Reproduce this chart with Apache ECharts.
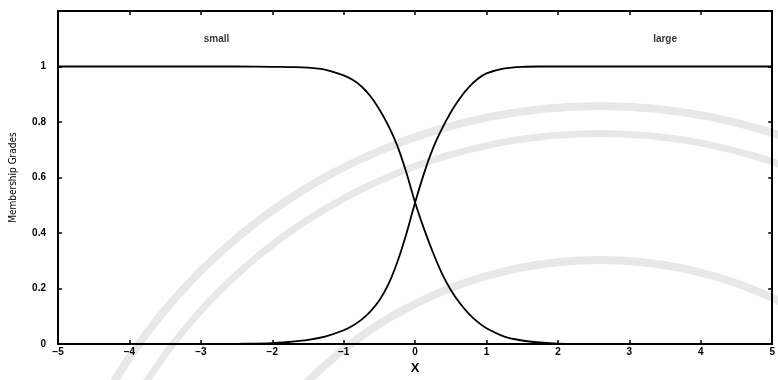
<!DOCTYPE html>
<html>
<head>
<meta charset="utf-8">
<script src="https://cdn.jsdelivr.net/npm/echarts@6/dist/echarts.min.js"></script>
<style>html,body{margin:0;padding:0;background:#fff;}#c{width:778px;height:380px;}</style>
</head>
<body>
<div id="c"></div>
<script>
var xValues = [-5, -4, -3, -2.5, -2, -1.75, -1.5, -1.25, -1, -0.875, -0.75, -0.625, -0.5, -0.375, -0.25, -0.125, 0, 0.125, 0.25, 0.375, 0.5, 0.625, 0.75, 0.875, 1, 1.25, 1.5, 1.75, 2, 2.5, 3, 4, 5];
var smallValues = [1, 1, 1, 1, 0.999, 0.998, 0.996, 0.988, 0.968, 0.952, 0.928, 0.893, 0.845, 0.787, 0.715, 0.62, 0.51, 0.415, 0.33, 0.255, 0.195, 0.148, 0.11, 0.08, 0.057, 0.027, 0.013, 0.006, 0.002, 0, 0, 0, 0];
var largeValues = [0, 0, 0, 0.001, 0.003, 0.008, 0.015, 0.028, 0.05, 0.066, 0.088, 0.118, 0.158, 0.215, 0.295, 0.395, 0.51, 0.615, 0.705, 0.775, 0.835, 0.885, 0.925, 0.955, 0.975, 0.993, 0.999, 1, 1, 1, 1, 1, 1];
var xTicks = [-5, -4, -3, -2, -1, 0, 1, 2, 3, 4, 5];
var yTicks = [0, 0.2, 0.4, 0.6, 0.8, 1];
var labelNames = ['small', 'large'];
var labelPos = [[-2.78, 1.1], [3.5, 1.1]];

function pairs(xs, ys) { return xs.map(function (x, i) { return [x, ys[i]]; }); }
var fnt = 'Liberation Sans, Arial, sans-serif';
var chart = echarts.init(document.getElementById('c'), null, {renderer: 'canvas'});
var wm = '#e8e8e8';
chart.setOption({
  animation: false,
  backgroundColor: '#fff',
  graphic: [
    {type: 'ring', z: -10, silent: true, shape: {cx: 600, cy: 672, r: 570, r0: 562}, style: {fill: wm}},
    {type: 'ring', z: -10, silent: true, shape: {cx: 600, cy: 672, r: 542, r0: 535}, style: {fill: wm}},
    {type: 'ring', z: -10, silent: true, shape: {cx: 600, cy: 672, r: 416, r0: 408}, style: {fill: wm}}
  ],
  grid: {left: 57, right: 1, top: 11, bottom: 26},
  xAxis: [{
    type: 'value', min: -5, max: 5, interval: 1,
    name: 'X', nameLocation: 'middle', nameGap: 15,
    nameTextStyle: {color: '#000', fontSize: 13, fontWeight: 'bold', fontFamily: fnt},
    axisLine: {show: true, onZero: false, lineStyle: {color: '#000', width: 2}},
    axisTick: {show: true, inside: true, length: 4, lineStyle: {color: '#000', width: 1.5}},
    axisLabel: {color: '#000', fontSize: 10, fontWeight: 'bold', fontFamily: fnt, margin: 3,
      formatter: function (v) { return xTicks.indexOf(v) >= 0 ? String(v).replace('-', '\u2212') : ''; }},
    splitLine: {show: false}
  }, {
    type: 'value', min: -5, max: 5, interval: 1, position: 'top',
    axisLine: {show: true, onZero: false, lineStyle: {color: '#000', width: 2}},
    axisTick: {show: true, inside: true, length: 4, lineStyle: {color: '#000', width: 1.5}},
    axisLabel: {show: false}, splitLine: {show: false}
  }],
  yAxis: [{
    type: 'value', min: 0, max: 1.2, interval: 0.2,
    name: 'Membership Grades', nameLocation: 'middle', nameGap: 40,
    nameTextStyle: {color: '#000', fontSize: 10, fontFamily: 'Liberation Sans Narrow, DejaVu Sans Condensed, sans-serif'},
    axisLine: {show: true, onZero: false, lineStyle: {color: '#000', width: 2}},
    axisTick: {show: true, inside: true, length: 4, lineStyle: {color: '#000', width: 1.5}},
    axisLabel: {color: '#000', fontSize: 10, fontWeight: 'bold', fontFamily: fnt, margin: 12,
      formatter: function (v) {
        for (var i = 0; i < yTicks.length; i++) { if (Math.abs(yTicks[i] - v) < 1e-6) return String(yTicks[i]); }
        return '';
      }},
    splitLine: {show: false}
  }, {
    type: 'value', min: 0, max: 1.2, interval: 0.2, position: 'right',
    axisLine: {show: true, onZero: false, lineStyle: {color: '#000', width: 2}},
    axisTick: {show: true, inside: true, length: 4, lineStyle: {color: '#000', width: 1.5}},
    axisLabel: {show: false}, splitLine: {show: false}
  }],
  series: [{
    name: labelNames[0], type: 'line', smooth: 0.3, showSymbol: false,
    data: pairs(xValues, smallValues),
    lineStyle: {color: '#000', width: 1.8}
  }, {
    name: labelNames[1], type: 'line', smooth: 0.3, showSymbol: false,
    data: pairs(xValues, largeValues),
    lineStyle: {color: '#000', width: 1.8}
  }, {
    type: 'scatter', symbolSize: 0, silent: true,
    data: labelPos.map(function (p, i) { return {value: p, name: labelNames[i]}; }),
    label: {show: true, position: 'inside', formatter: '{b}', color: '#000', fontSize: 10, fontWeight: 'bold', fontFamily: fnt}
  }]
});
</script>
</body>
</html>
